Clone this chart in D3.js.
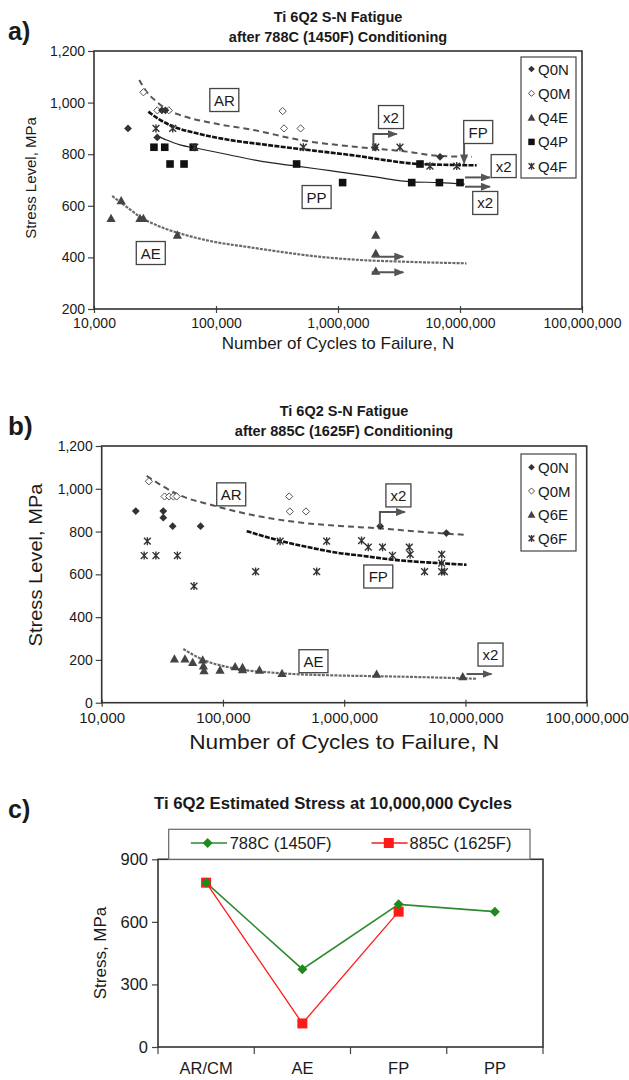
<!DOCTYPE html>
<html><head><meta charset="utf-8">
<script src="https://cdn.jsdelivr.net/npm/d3@7"></script>
<style>body{margin:0;background:#fff;} text{font-family:"Liberation Sans",Arial,Helvetica,sans-serif;fill:#1a1a1a;}</style>
</head><body><script>
// ---------------- DATA ----------------
const xTicks = [1e4, 1e5, 1e6, 1e7, 1e8];
const aYTicks = [200, 400, 600, 800, 1000, 1200];
const bYTicks = [0, 200, 400, 600, 800, 1000, 1200];
const cYTicks = [0, 300, 600, 900];

// panel a: 788C (1450F)
const aQ0N = [[19000,900],[36000,970],[38500,970],[33000,865],[2000000,827],[6860000,790]];
const aQ0M = [[25400,1040],[33000,970],[41000,970],[352000,967],[361000,900],[494000,900]];
const aQ4E = [[13800,551],[16700,620],[23800,551],[25400,551],[48200,487],[2040000,487],[2040000,416],[2040000,347]];
const aQ4P = [[31000,827],[38000,827],[42000,762],[54700,762],[65100,827],[458000,762],[1091000,690],[4020000,690],[4700000,762],[6780000,690],[10000000,690]];
const aQ4F = [[32200,900],[44200,900],[67000,827],[520000,827],[2040000,827],[3220000,827],[5670000,754],[9400000,754]];
const aAR = [[23500,1088],[27000,1042],[32700,1003],[40600,971],[50700,952],[95000,920],[202000,894],[489000,855],[1510000,827],[3660000,810],[6860000,793],[12500000,790]];
const aFP = [[27900,965],[34800,933],[44700,907],[69500,881],[130000,855],[260000,836],[627000,814],[1510000,792],[2200000,780],[4700000,762],[13700000,757]];
const aPP = [[33000,871],[39400,855],[50700,836],[69500,823],[130000,797],[244000,771],[458000,754],[860000,736],[1940000,713],[4000000,693],[6780000,690],[10900000,684]];
const aAE = [[14100,638],[18500,596],[23800,558],[34800,519],[50700,493],[95000,461],[179000,441],[335000,422],[627000,405],[1510000,390],[3650000,383],[11300000,377]];
const aLabels = [["AR",117000,1010],["PP",668000,634],["AE",29200,417],["x2",2720000,944],["FP",14100000,886],["x2",22800000,754],["x2",16100000,611]];
const aArrows = [[[1950000,827],[1950000,878],[3030000,878]],[[10800000,843],[10800000,764]],[[11000000,710],[17600000,710]],[[11000000,674],[17600000,674]],[[1890000,403],[3430000,403]],[[1890000,342],[3430000,342]]];

// panel b: 885C (1625F)
const bQ0N = [[19100,896],[32200,896],[32200,865],[38500,825],[65400,825],[1980000,825],[6960000,793]];
const bQ0M = [[24500,1035],[33000,964],[36000,964],[39000,964],[41500,964],[352000,964],[356000,894],[484000,894]];
const bQ6E = [[39800,205],[48600,205],[56300,189],[68000,200],[69800,150],[69000,172],[94600,153],[126000,169],[145000,165],[145000,155],[200000,153],[307000,137],[1850000,134],[9500000,122]];
const bQ6F = [[23800,755],[22400,688],[28000,688],[42100,688],[57700,545],[186000,613],[296000,755],[593000,613],[717000,755],[1390000,758],[1580000,727],[2070000,727],[2500000,688],[3440000,727],[3500000,693],[4600000,613],[6370000,693],[6370000,652],[6370000,613],[6700000,613]];
const bAR = [[23500,1060],[44300,969],[83400,922],[157000,883],[405000,844],[923000,826],[1980000,815],[4000000,800],[7000000,790],[9900000,785]];
const bFP = [[157000,802],[296000,757],[556000,722],[923000,699],[1350000,688],[2390000,670],[6170000,652],[10200000,645]];
const bAE = [[47100,251],[69000,200],[113000,165],[296000,138],[923000,127],[1850000,124],[8500000,115],[12300000,112]];
const bLabels = [["AR",117000,974],["FP",1910000,590],["AE",558000,194],["x2",2800000,969],["x2",16100000,225]];
const bArrows = [[[1970000,825],[1970000,891],[3170000,891]],[[10200000,134],[16400000,134]]];

// panel c
const cCategories = ["AR/CM","AE","FP","PP"];
const c788 = [788, 373, 684, 649];
const c885 = [788, 113, 649, null];

// ---------------- DRAW ----------------
const svg = d3.select("body").append("svg").attr("width",629).attr("height",1080);
svg.append("rect").attr("width",629).attr("height",1080).attr("fill","#fff");
const defs = svg.append("defs");
defs.append("marker").attr("id","arr").attr("viewBox","0 0 10 8").attr("refX",9).attr("refY",4)
  .attr("markerWidth",10).attr("markerHeight",8).attr("markerUnits","userSpaceOnUse").attr("orient","auto")
  .append("path").attr("d","M0,0L10,4L0,8Z").attr("fill","#555");

function marker(g, type, x, y, k=1){
  const t = `translate(${x},${y})`;
  if(type==="dfill"){ const r=3.9*k; g.append("path").attr("d",`M0,${-r}L${r},0L0,${r}L${-r},0Z`).attr("transform",t).attr("fill","#333"); }
  else if(type==="dopen"){ const r=3.6*k; g.append("path").attr("d",`M0,${-r}L${r},0L0,${r}L${-r},0Z`).attr("transform",t).attr("fill","#fff").attr("stroke","#555").attr("stroke-width",1); }
  else if(type==="tri"){ const r=4.6*k; g.append("path").attr("d",`M0,${-r}L${r},${r*0.8}L${-r},${r*0.8}Z`).attr("transform",t).attr("fill","#444"); }
  else if(type==="sq"){ const r=3.8*k; g.append("rect").attr("x",x-r).attr("y",y-r).attr("width",2*r).attr("height",2*r).attr("fill","#111"); }
  else if(type==="star"){ const s=3.4*k; g.append("path").attr("d",`M${-s},${-s}L${s},${s}M${-s},${s}L${s},${-s}M0,${-s-0.6}L0,${s+0.6}`).attr("transform",t).attr("stroke","#333").attr("stroke-width",1.4).attr("fill","none"); }
}

function panelSN(o){
  const g = svg.append("g");
  const x = d3.scaleLog().domain([1e4,1e8]).range([o.left,o.right]);
  const y = d3.scaleLinear().domain(o.yDomain).range([o.bottom,o.top]);
  // titles
  g.append("text").attr("x",o.tx).attr("y",o.t1).attr("text-anchor","middle").attr("font-weight","bold").attr("font-size",14.5).text("Ti 6Q2 S-N Fatigue");
  g.append("text").attr("x",o.tx).attr("y",o.t2).attr("text-anchor","middle").attr("font-weight","bold").attr("font-size",14.5).text(o.title2);
  g.append("text").attr("x",8).attr("y",o.tagY).attr("font-weight","bold").attr("font-size",o.tagSize).text(o.tag);
  // y axis
  const ya = g.append("g").attr("transform",`translate(${o.left},0)`)
    .call(d3.axisLeft(y).tickValues(o.yTicks).tickFormat(d3.format(",")).tickSize(6).tickPadding(3));
  ya.select(".domain").remove();
  ya.selectAll("line").attr("stroke","#444").attr("stroke-width",1.2);
  ya.selectAll("text").attr("font-size",14).attr("fill","#222").style("font-family",'"Liberation Sans",Arial,sans-serif');
  // x axis
  const xa = g.append("g").attr("transform",`translate(0,${o.bottom})`)
    .call(d3.axisBottom(x).tickValues(xTicks).tickFormat(d3.format(",")).tickSize(4).tickPadding(o.xPad));
  xa.select(".domain").remove();
  xa.selectAll("line").attr("y1",-3).attr("stroke","#444").attr("stroke-width",1.2);
  xa.selectAll("text").attr("font-size",o.xTickSize).attr("fill","#222").style("font-family",'"Liberation Sans",Arial,sans-serif');
  // frame
  g.append("rect").attr("x",o.left).attr("y",o.top).attr("width",o.right-o.left).attr("height",o.bottom-o.top)
    .attr("fill","none").attr("stroke","#333").attr("stroke-width",1.6);
  // axis titles
  const xt = g.append("text").attr("x",(o.left+o.right)/2).attr("y",o.xTitleY).attr("text-anchor","middle").attr("font-size",o.xTitleSize).text("Number of Cycles to Failure, N");
  if(o.xTitleLen) xt.attr("textLength",o.xTitleLen).attr("lengthAdjust","spacingAndGlyphs");
  const yt = g.append("text").attr("transform",`translate(${o.yTitleX},${o.yTitleY}) rotate(-90)`).attr("text-anchor","middle").attr("font-size",o.yTitleSize).text("Stress Level, MPa");
  if(o.yTitleLen) yt.attr("textLength",o.yTitleLen).attr("lengthAdjust","spacingAndGlyphs");
  // curves
  const line = d3.line().x(d=>x(d[0])).y(d=>y(d[1])).curve(d3.curveMonotoneX);
  o.curves.forEach(c=>{
    g.append("path").datum(c.data).attr("d",line).attr("fill","none").attr("stroke",c.color)
      .attr("stroke-width",c.w).attr("stroke-dasharray",c.dash||null);
  });
  // markers
  o.series.forEach(s=>{ s.data.forEach(d=>marker(g,s.type,x(d[0]),y(d[1]))); });
  // arrows
  const pl = d3.line().x(d=>x(d[0])).y(d=>y(d[1]));
  o.arrows.forEach(a=>{
    g.append("path").datum(a).attr("d",pl).attr("fill","none").attr("stroke","#555").attr("stroke-width",2).attr("marker-end","url(#arr)");
  });
  // label boxes
  o.labels.forEach(l=>{
    const cx=x(l[1]), cy=y(l[2]);
    const w = l[0]==="x2"?25:29, h=23;
    g.append("rect").attr("x",cx-w/2).attr("y",cy-h/2).attr("width",w).attr("height",h).attr("fill","#fff").attr("stroke","#444").attr("stroke-width",1.3);
    g.append("text").attr("x",cx).attr("y",cy+5.5).attr("text-anchor","middle").attr("font-size",15).text(l[0]);
  });
  // legend
  const L = o.legend;
  g.append("rect").attr("x",L.x).attr("y",L.y).attr("width",L.w).attr("height",L.h).attr("fill","#fff").attr("stroke","#444").attr("stroke-width",1.2);
  L.items.forEach((it,i)=>{
    const yy = L.y0 + i*L.dy;
    marker(g,it[1],L.x+10.5,yy,0.85);
    g.append("text").attr("x",L.x+17).attr("y",yy+5.5).attr("font-size",15).text(it[0]);
  });
}

panelSN({
  left:94,right:582,top:51,bottom:309,yDomain:[200,1200],yTicks:aYTicks,
  tx:338,t1:22,t2:42,title2:"after 788C (1450F) Conditioning",tag:"a)",tagY:40,tagSize:25,
  xPad:5,xTickSize:14,xTitleY:349,xTitleSize:17,yTitleX:36,yTitleY:178,yTitleSize:15,
  curves:[
    {data:aAE,color:"#6a6a6a",w:2.2,dash:"3,1.2"},
    {data:aPP,color:"#222",w:1.2},
    {data:aAR,color:"#555",w:2,dash:"6,4"},
    {data:aFP,color:"#111",w:2.6,dash:"5,1.3"}
  ],
  series:[{data:aQ0M,type:"dopen"},{data:aQ4E,type:"tri"},{data:aQ4P,type:"sq"},{data:aQ0N,type:"dfill"},{data:aQ4F,type:"star"}],
  arrows:aArrows,labels:aLabels,
  legend:{x:521,y:57,w:55,h:121,y0:69,dy:24.3,items:[["Q0N","dfill"],["Q0M","dopen"],["Q4E","tri"],["Q4P","sq"],["Q4F","star"]]}
});

panelSN({
  left:101.7,right:586.7,top:446,bottom:702.7,yDomain:[0,1200],yTicks:bYTicks,
  tx:344,t1:416,t2:435.5,title2:"after 885C (1625F) Conditioning",tag:"b)",tagY:435,tagSize:26,
  xPad:6,xTickSize:15,xTitleY:749,xTitleSize:21,xTitleLen:310,yTitleX:42,yTitleY:565,yTitleSize:19,yTitleLen:163,
  curves:[
    {data:bAE,color:"#6a6a6a",w:2.2,dash:"3,1.2"},
    {data:bAR,color:"#555",w:2,dash:"6,4"},
    {data:bFP,color:"#111",w:2.6,dash:"5,1.3"}
  ],
  series:[{data:bQ0M,type:"dopen"},{data:bQ6E,type:"tri"},{data:bQ0N,type:"dfill"},{data:bQ6F,type:"star"}],
  arrows:bArrows,labels:bLabels,
  legend:{x:521,y:454,w:55,h:97,y0:467.3,dy:23.7,items:[["Q0N","dfill"],["Q0M","dopen"],["Q6E","tri"],["Q6F","star"]]}
});

// ---------------- PANEL C ----------------
(function(){
  const g = svg.append("g");
  const left=158,right=543,top=859.3,bottom=1047;
  const x = d3.scaleBand().domain(cCategories).range([left,right]);
  const y = d3.scaleLinear().domain([0,900]).range([bottom,top]);
  g.append("text").attr("x",8).attr("y",818).attr("font-weight","bold").attr("font-size",25).text("c)");
  g.append("text").attr("x",333).attr("y",809).attr("text-anchor","middle").attr("font-weight","bold").attr("font-size",16)
    .attr("textLength",358).attr("lengthAdjust","spacingAndGlyphs").text("Ti 6Q2 Estimated Stress at 10,000,000 Cycles");
  const ya = g.append("g").attr("transform",`translate(${left},0)`).call(d3.axisLeft(y).tickValues(cYTicks).tickSize(6).tickPadding(4));
  ya.select(".domain").remove();
  ya.selectAll("line").attr("stroke","#444").attr("stroke-width",1.2);
  ya.selectAll("text").attr("font-size",16.5).attr("fill","#333").style("font-family",'"Liberation Sans",Arial,sans-serif');
  const xa = g.append("g").attr("transform",`translate(0,${bottom})`).call(d3.axisBottom(x).tickSize(0).tickPadding(15));
  xa.select(".domain").remove();
  xa.selectAll("text").attr("font-size",16.5).attr("fill","#333").style("font-family",'"Liberation Sans",Arial,sans-serif');
  // band boundary ticks
  const bounds = cCategories.map(c=>x(c)).concat([right]);
  g.selectAll(".bt").data(bounds).enter().append("line").attr("x1",d=>d).attr("x2",d=>d).attr("y1",bottom).attr("y2",bottom+7).attr("stroke","#444").attr("stroke-width",1.2);
  g.append("rect").attr("x",left).attr("y",top).attr("width",right-left).attr("height",bottom-top).attr("fill","none").attr("stroke","#333").attr("stroke-width",1.6);
  g.append("text").attr("transform",`translate(106,953) rotate(-90)`).attr("text-anchor","middle").attr("font-size",17).attr("fill","#333").text("Stress, MPa");
  const cx = c=>x(c)+x.bandwidth()/2;
  const d788 = cCategories.map((c,i)=>[c,c788[i]]).filter(d=>d[1]!=null);
  const d885 = cCategories.map((c,i)=>[c,c885[i]]).filter(d=>d[1]!=null);
  const line = d3.line().x(d=>cx(d[0])).y(d=>y(d[1]));
  const green="#2f8a2f", red="#ff1a1a";
  g.append("path").datum(d885).attr("d",line).attr("fill","none").attr("stroke",red).attr("stroke-width",1.3);
  g.append("path").datum(d788).attr("d",line).attr("fill","none").attr("stroke",green).attr("stroke-width",1.6);
  d885.forEach(d=>g.append("rect").attr("x",cx(d[0])-5).attr("y",y(d[1])-5).attr("width",10).attr("height",10).attr("fill",red));
  d788.forEach(d=>g.append("path").attr("d","M0,-5L5,0L0,5L-5,0Z").attr("transform",`translate(${cx(d[0])},${y(d[1])})`).attr("fill","#1e8a1e"));
  // legend
  g.append("rect").attr("x",168.7).attr("y",829.3).attr("width",361.3).attr("height",30).attr("fill","#fff").attr("stroke","#666").attr("stroke-width",1.2);
  const ly=843;
  g.append("line").attr("x1",190.8).attr("x2",227).attr("y1",ly).attr("y2",ly).attr("stroke",green).attr("stroke-width",1.6);
  g.append("path").attr("d","M0,-5L5,0L0,5L-5,0Z").attr("transform",`translate(207.6,${ly})`).attr("fill","#1e8a1e");
  g.append("text").attr("x",229.7).attr("y",ly+6).attr("font-size",16.5).attr("fill","#333").text("788C (1450F)");
  g.append("line").attr("x1",371.5).attr("x2",407.6).attr("y1",ly).attr("y2",ly).attr("stroke",red).attr("stroke-width",1.3);
  g.append("rect").attr("x",383.8).attr("y",ly-5).attr("width",10).attr("height",10).attr("fill",red);
  g.append("text").attr("x",409.6).attr("y",ly+6).attr("font-size",16.5).attr("fill","#333").text("885C (1625F)");
})();
</script></body></html>
